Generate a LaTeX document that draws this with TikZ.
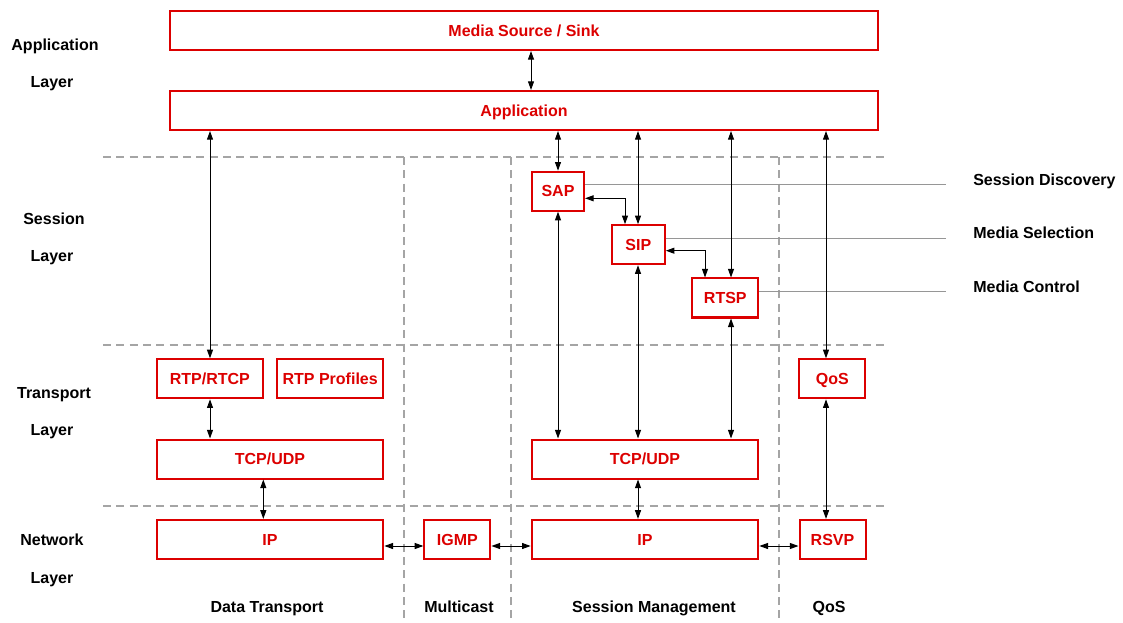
\documentclass[tikz,border=0pt]{standalone}
\usepackage{fontspec}
\setmainfont{Liberation Sans}
\usetikzlibrary{arrows.meta}
\definecolor{boxred}{RGB}{220,0,0}
\definecolor{divgray}{RGB}{165,165,165}
\definecolor{tiegray}{RGB}{150,150,150}
\begin{document}
\begin{tikzpicture}[x=0.75pt,y=-0.75pt,
  font=\fontsize{12}{14}\selectfont\bfseries,
  proto/.style={draw=boxred, line width=1.5pt, text=boxred, rectangle,
    inner sep=0pt, minimum height=29.25pt, text height=8.6pt, text depth=0pt},
  divider/.style={draw=divgray, line width=1pt, dash pattern=on 6pt off 4pt},
  tie/.style={draw=tiegray, line width=0.8pt},
  conn/.style={{Triangle[length=6.5pt,width=4.5pt]}-{Triangle[length=6.5pt,width=4.5pt]},
    line width=0.75pt},
  caption/.style={text=black, inner sep=0pt, text height=8.6pt, text depth=0pt}]
\useasboundingbox (0,0) rectangle (1123,623);

% layer and column dividers
\draw[divider] (103,157) -- (887,157);
\draw[divider] (103,345) -- (887,345);
\draw[divider] (103,506) -- (887,506);
\draw[divider] (404,157) -- (404,623);
\draw[divider] (511,157) -- (511,623);
\draw[divider] (779,157) -- (779,623);

% layer names
\node[caption] (la1) at (55,45) {Application};
\node[caption] (la2) at (52,82) {Layer};
\node[caption] (ls1) at (54,219) {Session};
\node[caption] (ls2) at (52,256) {Layer};
\node[caption] (lt1) at (54,393) {Transport};
\node[caption] (lt2) at (52,430) {Layer};
\node[caption] (ln1) at (52,540) {Network};
\node[caption] (ln2) at (52,578) {Layer};

% column names
\node[caption] (cdt) at (267,607) {Data Transport};
\node[caption] (cmc) at (459,607) {Multicast};
\node[caption] (csm) at (654,607) {Session Management};
\node[caption] (cqs) at (829,607) {QoS};

% protocol boxes
\node[proto, minimum width=531pt] (media) at (524,30.5) {Media Source / Sink};
\node[proto, minimum width=531pt] (app) at (524,110.5) {Application};
\node[proto, minimum width=39pt] (sap) at (558,191.2) {SAP};
\node[proto, minimum width=39.75pt] (sip) at (638.3,244.7) {SIP};
\node[proto, minimum width=49.5pt] (rtsp) at (725.3,298) {RTSP};
\node[proto, minimum width=79.5pt] (rtp) at (209.8,378.8) {RTP/RTCP};
\node[proto, minimum width=79.5pt] (prof) at (330.2,378.8) {RTP Profiles};
\node[proto, minimum width=170pt] (tcpL) at (270,459) {TCP/UDP};
\node[proto, minimum width=170pt] (ipL) at (270,539.4) {IP};
\node[proto, minimum width=49.5pt] (igmp) at (457.4,539.4) {IGMP};
\node[proto, minimum width=170pt] (tcpM) at (645,459) {TCP/UDP};
\node[proto, minimum width=170pt] (ipM) at (645,539.4) {IP};
\node[proto, minimum width=49.5pt] (qos) at (832.3,378.8) {QoS};
\node[proto, minimum width=49.5pt] (rsvp) at (832.5,539.4) {RSVP};

% session function labels
\node[caption, anchor=west] (fsd) at (973,180) {Session Discovery};
\node[caption, anchor=west] (fms) at (973,233) {Media Selection};
\node[caption, anchor=west] (fmc) at (973,287) {Media Control};
\coordinate (esd) at (946,184.3);
\coordinate (ems) at (946,238.3);
\coordinate (emc) at (946,291.7);

% connector columns and rows
\coordinate (xA) at (210,0);
\coordinate (xB) at (263.3,0);
\coordinate (xC) at (558,0);
\coordinate (xD) at (638,0);
\coordinate (xE) at (731,0);
\coordinate (xF) at (826,0);
\coordinate (xG) at (531,0);
\coordinate (xH) at (625,0);
\coordinate (xI) at (705,0);
\coordinate (yN) at (0,546);
\coordinate (yS) at (0,198.3);
\coordinate (yT) at (0,250.7);

% ties to the function labels
\draw[tie] (sap.east |- esd) -- (esd);
\draw[tie] (sip.east |- ems) -- (ems);
\draw[tie] (rtsp.east |- emc) -- (emc);

% protocol interactions
\draw[conn] (media.south -| xG) -- (app.north -| xG);
\draw[conn] (app.south -| xA) -- (rtp.north -| xA);
\draw[conn] (app.south -| xC) -- (sap.north -| xC);
\draw[conn] (app.south -| xD) -- (sip.north -| xD);
\draw[conn] (app.south -| xE) -- (rtsp.north -| xE);
\draw[conn] (app.south -| xF) -- (qos.north -| xF);
\draw[conn] (sap.east |- yS) -| (sip.north -| xH);
\draw[conn] (sip.east |- yT) -| (rtsp.north -| xI);
\draw[conn] (sap.south -| xC) -- (tcpM.north -| xC);
\draw[conn] (sip.south -| xD) -- (tcpM.north -| xD);
\draw[conn] (rtsp.south -| xE) -- (tcpM.north -| xE);
\draw[conn] (rtp.south -| xA) -- (tcpL.north -| xA);
\draw[conn] (tcpL.south -| xB) -- (ipL.north -| xB);
\draw[conn] (tcpM.south -| xD) -- (ipM.north -| xD);
\draw[conn] (qos.south -| xF) -- (rsvp.north -| xF);
\draw[conn] (ipL.east |- yN) -- (igmp.west |- yN);
\draw[conn] (igmp.east |- yN) -- (ipM.west |- yN);
\draw[conn] (ipM.east |- yN) -- (rsvp.west |- yN);
\end{tikzpicture}
\end{document}
